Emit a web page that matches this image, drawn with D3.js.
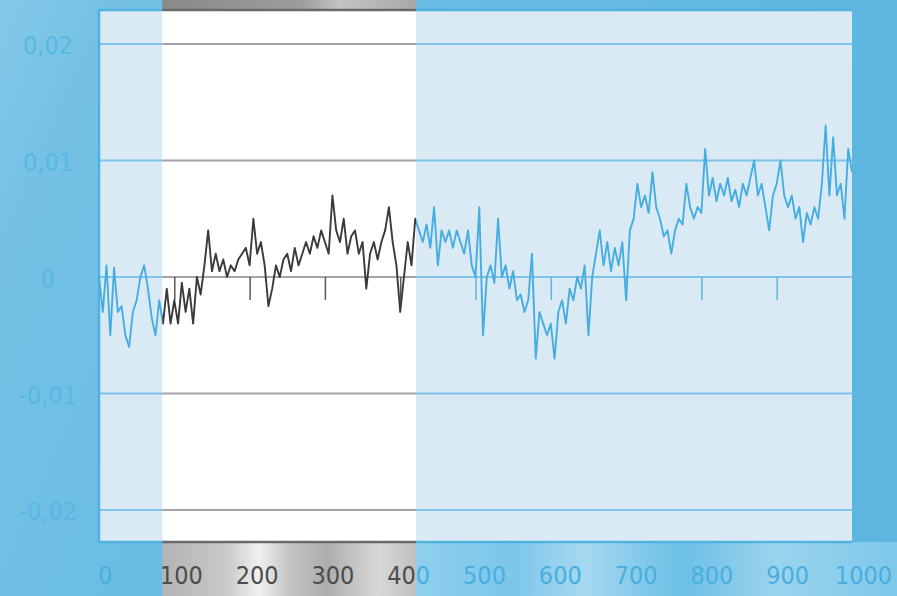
<!DOCTYPE html>
<html>
<head>
<meta charset="utf-8">
<script src="https://cdn.jsdelivr.net/npm/d3@7"></script>
<style>
  body { margin: 0; overflow: hidden; background: #6fc0e4; }
</style>
</head>
<body>
<svg id="chart"></svg>
<script>
/* data (y in thousandths, sampled every 5 units along x) */
const xTickValues = [0, 100, 200, 300, 400, 500, 600, 700, 800, 900, 1000];
const yTickValues = [-20, -10, 0, 10, 20];
const highlightRange = [84, 421];
const sampleStep = 5;
const signal = [
  0, -3, 1, -5, 0.8, -3, -2.5, -5, -6, -3, -2, 0, 1, -1, -3.5, -5, -2, -4,
  -1, -4, -2, -4, -0.5, -3, -1, -4, 0, -1.5, 1, 4, 0.5, 2, 0.5, 1.5, 0, 1,
  0.5, 1.5, 2, 2.5, 1, 5, 2, 3, 1, -2.5, -1, 1, 0, 1.5, 2, 0.5, 2.5, 1,
  2, 3, 2, 3.5, 2.5, 4, 3, 2, 7, 4, 3, 5, 2, 3.5, 4, 2, 3, -1,
  2, 3, 1.5, 3, 4, 6, 3, 1, -3, 0, 3, 1, 5,
  4, 3, 4.5, 2.5, 6, 1, 4, 3, 4, 2.5,
  4, 3, 2, 4, 1, 0, 6, -5, 0, 1,
  -0.5, 5, 0, 1, -1, 0.5, -2, -1.5, -3, -2,
  2, -7, -3, -4, -5, -4, -7, -3, -2, -4,
  -1, -2, 0, -1, 1, -5, 0, 2, 4, 1,
  3, 0.5, 2.5, 1, 3, -2, 4, 5, 8, 6,
  7, 5.5, 9, 6, 5, 3.5, 4, 2, 4, 5,
  4.5, 8, 6, 5, 6, 5.5, 11, 7, 8.5, 6.5,
  8, 7, 8.5, 6.5, 7.5, 6, 8, 7, 8.5, 10,
  7, 8, 6, 4, 7, 8, 10, 7, 6, 7,
  5, 6, 3, 5.5, 4.5, 6, 5, 8, 13, 7,
  12, 7, 8, 5, 11, 9
];

const W = 897;
const H = 596;
const plot = { left: 99, right: 852, top: 10, bottom: 542 };

const svg = d3.select('#chart').attr('width', W).attr('height', H);

const x = d3.scaleLinear([0, 1000], [plot.left, plot.right]);
const y = d3.scaleLinear([-20, 20], [510, 44]);
// the printed labels sit a little to the right of the ticks
const xLabel = d3.scaleLinear([0, 1000], [105, 863]);

const points = signal.map((v, i) => ({ x: i * sampleStep, v: v }));
const hx0 = x(highlightRange[0]);
const hx1 = x(highlightRange[1]);

const locale = d3.formatLocale({ decimal: ',', thousands: '.', grouping: [3], currency: ['', ''], minus: '-' });
const fmt = locale.format('.2f');

const defs = svg.append('defs');

const bg = defs.append('linearGradient').attr('id', 'bg').attr('x1', 0).attr('y1', 0).attr('x2', 1).attr('y2', 0.3);
bg.append('stop').attr('offset', '0%').attr('stop-color', '#84c8e8');
bg.append('stop').attr('offset', '12%').attr('stop-color', '#74c1e5');
bg.append('stop').attr('offset', '70%').attr('stop-color', '#62b9e2');
bg.append('stop').attr('offset', '100%').attr('stop-color', '#5cb6e0');

const bottomGlow = defs.append('linearGradient').attr('id', 'bottom-glow');
bottomGlow.append('stop').attr('offset', '0%').attr('stop-color', '#8fd0ed');
bottomGlow.append('stop').attr('offset', '20%').attr('stop-color', '#7cc6e9');
bottomGlow.append('stop').attr('offset', '35%').attr('stop-color', '#a5d9f0');
bottomGlow.append('stop').attr('offset', '55%').attr('stop-color', '#6cbfe6');
bottomGlow.append('stop').attr('offset', '75%').attr('stop-color', '#9ad4ee');
bottomGlow.append('stop').attr('offset', '100%').attr('stop-color', '#7ec8ea');

const greyTop = defs.append('linearGradient').attr('id', 'grey-top');
greyTop.append('stop').attr('offset', '0%').attr('stop-color', '#8a8a8a');
greyTop.append('stop').attr('offset', '55%').attr('stop-color', '#9c9c9c');
greyTop.append('stop').attr('offset', '70%').attr('stop-color', '#c4c4c4');
greyTop.append('stop').attr('offset', '100%').attr('stop-color', '#a8a8a8');

const greyBottom = defs.append('linearGradient').attr('id', 'grey-bottom');
greyBottom.append('stop').attr('offset', '0%').attr('stop-color', '#b4b4b4');
greyBottom.append('stop').attr('offset', '25%').attr('stop-color', '#c8c8c8');
greyBottom.append('stop').attr('offset', '38%').attr('stop-color', '#f0f0f0');
greyBottom.append('stop').attr('offset', '50%').attr('stop-color', '#c4c4c4');
greyBottom.append('stop').attr('offset', '65%').attr('stop-color', '#adadad');
greyBottom.append('stop').attr('offset', '85%').attr('stop-color', '#d8d8d8');
greyBottom.append('stop').attr('offset', '100%').attr('stop-color', '#c0c0c0');

const clipIn = defs.append('clipPath').attr('id', 'clip-in');
clipIn.append('rect').attr('x', hx0).attr('y', 0).attr('width', hx1 - hx0).attr('height', H);
const clipOut = defs.append('clipPath').attr('id', 'clip-out');
clipOut.append('rect').attr('x', 0).attr('y', 0).attr('width', hx0).attr('height', H);
clipOut.append('rect').attr('x', hx1).attr('y', 0).attr('width', W - hx1).attr('height', H);

/* backgrounds */
svg.append('rect').attr('width', W).attr('height', H).attr('fill', 'url(#bg)');
svg.append('rect')
  .attr('x', hx1).attr('y', plot.bottom).attr('width', W - hx1).attr('height', H - plot.bottom)
  .attr('fill', 'url(#bottom-glow)');
svg.append('rect')
  .attr('x', hx0).attr('y', 0).attr('width', hx1 - hx0).attr('height', plot.top)
  .attr('fill', 'url(#grey-top)');
svg.append('rect')
  .attr('x', hx0).attr('y', plot.bottom).attr('width', hx1 - hx0).attr('height', H - plot.bottom)
  .attr('fill', 'url(#grey-bottom)');
svg.append('rect')
  .attr('x', plot.left).attr('y', plot.top)
  .attr('width', plot.right - plot.left).attr('height', plot.bottom - plot.top)
  .attr('fill', '#d9eaf5');
svg.append('rect')
  .attr('x', hx0).attr('y', plot.top).attr('width', hx1 - hx0).attr('height', plot.bottom - plot.top)
  .attr('fill', '#ffffff');

const themes = [
  { clip: 'url(#clip-out)', grid: '#7dc4e8', line: '#47ade0', tick: '#5ab6e2', label: '#4aaee0', frame: '#52b2df' },
  { clip: 'url(#clip-in)', grid: '#a4a4a4', line: '#3a3a3a', tick: '#5a5a5a', label: '#4c4c4c', frame: '#6a6a6a' }
];

const line = d3.line()
  .x((d) => x(d.x))
  .y((d) => y(d.v));

themes.forEach(function (t) {
  const layer = svg.append('g').attr('clip-path', t.clip);

  /* grid lines */
  layer.selectAll('.grid')
    .data(yTickValues)
    .enter()
    .append('line')
    .attr('stroke', t.grid)
    .attr('stroke-width', 2)
    .attr('x1', plot.left)
    .attr('x2', plot.right)
    .attr('y1', (d) => y(d))
    .attr('y2', (d) => y(d));

  /* ticks hanging under the zero line */
  layer.append('g')
    .attr('transform', `translate(0, ${y(0)})`)
    .call(d3.axisBottom(x).tickValues(xTickValues.slice(1, -1)).tickSize(23).tickFormat(''))
    .call((g) => g.select('.domain').remove())
    .selectAll('line')
    .attr('stroke', t.tick)
    .attr('stroke-width', 1.5);

  /* frame */
  layer.append('path')
    .attr('fill', 'none')
    .attr('stroke', t.frame)
    .attr('stroke-width', 2.5)
    .attr('d', `M${plot.right},${plot.top}H${plot.left}V${plot.bottom}H${plot.right}`);

  /* data */
  layer.append('path')
    .datum(points)
    .attr('fill', 'none')
    .attr('stroke', t.line)
    .attr('stroke-width', 1.9)
    .attr('stroke-linejoin', 'round')
    .attr('d', line);

  /* x labels */
  const xg = layer.append('g')
    .attr('transform', `translate(0, ${plot.bottom})`)
    .call(d3.axisBottom(xLabel).tickValues(xTickValues).tickSize(0).tickPadding(24)
      .tickFormat(d3.format('d')))
    .call((g) => g.select('.domain').remove());
  xg.attr('font-family', '"DejaVu Sans Condensed", "DejaVu Sans", sans-serif')
    .attr('font-size', 25);
  xg.selectAll('text').attr('fill', t.label);
});

/* y labels */
const yg = svg.append('g')
  .attr('transform', 'translate(48, 0)')
  .call(d3.axisLeft(y).tickValues(yTickValues).tickSize(0).tickPadding(0)
    .tickFormat((d) => (d === 0 ? '0' : fmt(d / 1000))))
  .call((g) => g.select('.domain').remove());
yg.attr('font-family', '"DejaVu Sans Condensed", "DejaVu Sans", sans-serif')
  .attr('font-size', 25)
  .attr('text-anchor', 'middle');
yg.selectAll('text').attr('fill', '#58b8e4').attr('x', 0).attr('dy', '0.38em');
</script>
</body>
</html>
